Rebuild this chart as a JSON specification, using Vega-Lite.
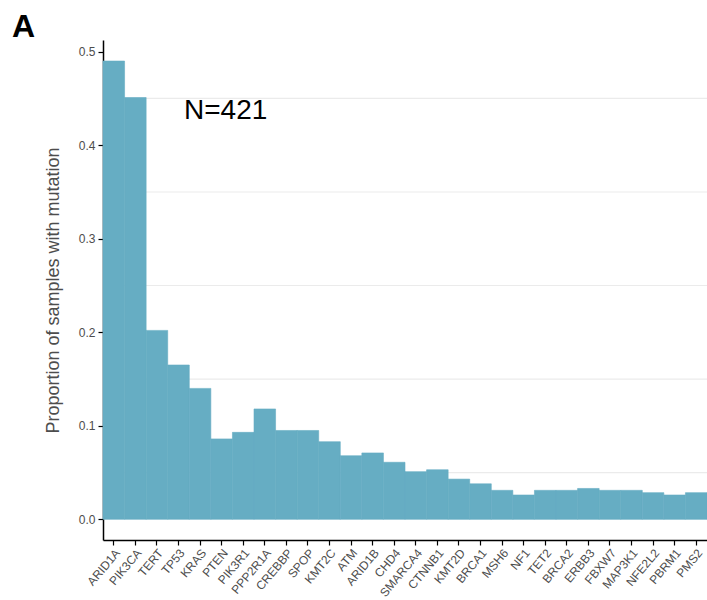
{
  "$schema": "https://vega.github.io/schema/vega-lite/v6.json",
  "autosize": {"type": "none"},
  "width": 604,
  "height": 500,
  "padding": {"left": 103, "top": 40, "right": 0, "bottom": 60},
  "background": "white",
  "config": {"view": {"stroke": null}, "font": "Liberation Sans"},
  "title": {
    "text": "A",
    "anchor": "start",
    "frame": "group",
    "fontSize": 32,
    "fontWeight": "bold",
    "color": "black",
    "dx": -91,
    "baseline": "alphabetic",
    "offset": 3,
    "dy": 32
  },
  "datasets": {
    "genes": [
      {"gene": "ARID1A", "prop": 0.490},
      {"gene": "PIK3CA", "prop": 0.451},
      {"gene": "TERT", "prop": 0.202},
      {"gene": "TP53", "prop": 0.165},
      {"gene": "KRAS", "prop": 0.140},
      {"gene": "PTEN", "prop": 0.086},
      {"gene": "PIK3R1", "prop": 0.093},
      {"gene": "PPP2R1A", "prop": 0.118},
      {"gene": "CREBBP", "prop": 0.095},
      {"gene": "SPOP", "prop": 0.095},
      {"gene": "KMT2C", "prop": 0.083},
      {"gene": "ATM", "prop": 0.068},
      {"gene": "ARID1B", "prop": 0.071},
      {"gene": "CHD4", "prop": 0.061},
      {"gene": "SMARCA4", "prop": 0.051},
      {"gene": "CTNNB1", "prop": 0.053},
      {"gene": "KMT2D", "prop": 0.043},
      {"gene": "BRCA1", "prop": 0.038},
      {"gene": "MSH6", "prop": 0.031},
      {"gene": "NF1", "prop": 0.026},
      {"gene": "TET2", "prop": 0.031},
      {"gene": "BRCA2", "prop": 0.031},
      {"gene": "ERBB3", "prop": 0.033},
      {"gene": "FBXW7", "prop": 0.031},
      {"gene": "MAP3K1", "prop": 0.031},
      {"gene": "NFE2L2", "prop": 0.0285},
      {"gene": "PBRM1", "prop": 0.026},
      {"gene": "PMS2", "prop": 0.0285}
    ],
    "grid": [
      {"level": 0.05}, {"level": 0.15}, {"level": 0.25}, {"level": 0.35}, {"level": 0.45}
    ],
    "label": [
      {"gene": "PTEN", "prop": 0.437, "text": "N=421"}
    ]
  },
  "layer": [
    {
      "data": {"name": "grid"},
      "mark": {"type": "rule", "color": "#ebebeb", "strokeWidth": 1.2},
      "encoding": {
        "y": {"field": "level", "type": "quantitative", "scale": {"domain": [-0.0221, 0.5125], "nice": false, "zero": false}}
      }
    },
    {
      "data": {"name": "genes"},
      "mark": {"type": "bar", "color": "#66adc3", "stroke": "#66adc3", "strokeWidth": 0.6},
      "encoding": {
        "x": {
          "field": "gene",
          "type": "nominal",
          "sort": null,
          "scale": {
            "domain": ["ARID1A","PIK3CA","TERT","TP53","KRAS","PTEN","PIK3R1","PPP2R1A","CREBBP","SPOP","KMT2C","ATM","ARID1B","CHD4","SMARCA4","CTNNB1","KMT2D","BRCA1","MSH6","NF1","TET2","BRCA2","ERBB3","FBXW7","MAP3K1","NFE2L2","PBRM1","PMS2"],
            "paddingInner": 0,
            "paddingOuter": 0
          },
          "axis": {
            "title": null,
            "labelAngle": -50,
            "labelFontSize": 12,
            "labelColor": "#4d4d4d",
            "labelAlign": "right",
            "labelBaseline": "top",
            "labelPadding": 2,
            "domainColor": "black",
            "domainWidth": 1.5,
            "tickColor": "black",
            "tickWidth": 1.2,
            "tickSize": 5,
            "labelOverlap": false
          }
        },
        "y": {
          "field": "prop",
          "type": "quantitative",
          "scale": {"domain": [-0.0221, 0.5125], "nice": false, "zero": false},
          "axis": {
            "title": "Proportion of samples with mutation",
            "titleFontSize": 18,
            "titleFontWeight": "normal",
            "titleColor": "#4d4d4d",
            "titlePadding": 16,
            "values": [0, 0.1, 0.2, 0.3, 0.4, 0.5],
            "format": ".1f",
            "labelFontSize": 12,
            "labelColor": "#4d4d4d",
            "labelPadding": 3,
            "grid": false,
            "domainColor": "black",
            "domainWidth": 1.5,
            "tickColor": "black",
            "tickWidth": 1.2,
            "tickSize": 5
          }
        },
        "y2": {"datum": 0}
      }
    },
    {
      "data": {"name": "label"},
      "mark": {"type": "text", "fontSize": 28, "color": "black", "align": "center", "baseline": "middle", "dx": 4},
      "encoding": {
        "x": {"field": "gene", "type": "nominal"},
        "y": {"field": "prop", "type": "quantitative"},
        "text": {"field": "text"}
      }
    }
  ]
}
